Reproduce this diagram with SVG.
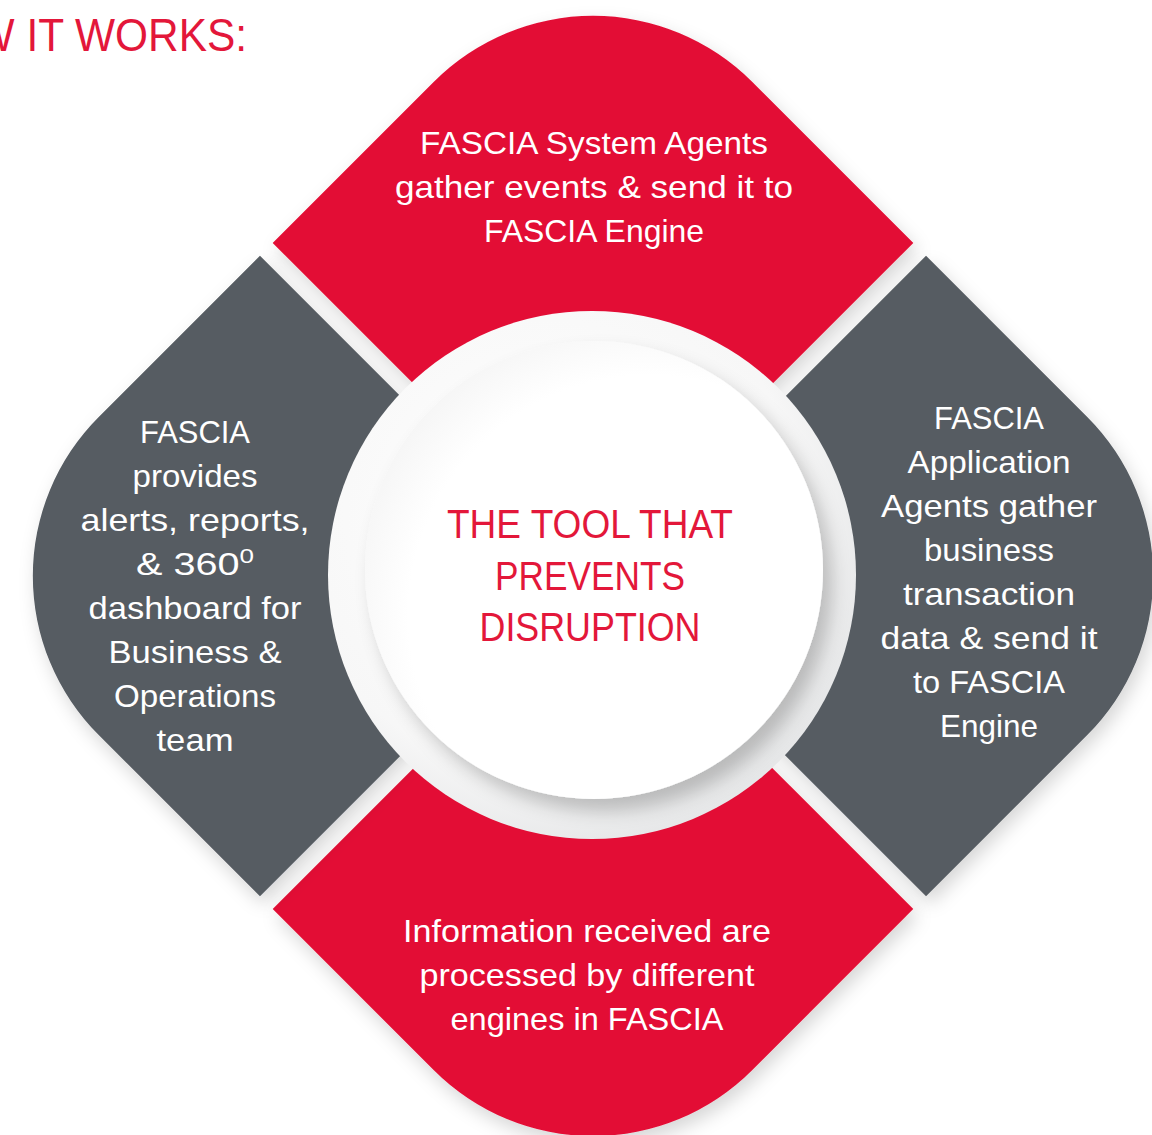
<svg xmlns="http://www.w3.org/2000/svg" width="1152" height="1135" viewBox="0 0 1152 1135">
  <style>
    .red { fill: #E30E36; }
    .gray { fill: #565C62; }
    .lbl { font-family: "Liberation Sans", Arial, sans-serif; font-size: 32px; fill: #FFFFFF; text-anchor: middle; }
    .ctr { font-family: "Liberation Sans", Arial, sans-serif; font-size: 40px; fill: #E3173A; text-anchor: middle; }
    .ttl { font-family: "Liberation Sans", Arial, sans-serif; font-size: 46px; fill: #E3173A; }
  </style>
  <defs>
    <rect id="shape" x="-462" y="-462" width="924" height="924" rx="225" ry="225"/>
    <clipPath id="qTop" clipPathUnits="userSpaceOnUse"><rect x="-520" y="-520" width="511" height="511"/></clipPath>
    <clipPath id="qRight" clipPathUnits="userSpaceOnUse"><rect x="9" y="-520" width="511" height="511"/></clipPath>
    <clipPath id="qBottom" clipPathUnits="userSpaceOnUse"><rect x="9" y="9" width="511" height="511"/></clipPath>
    <clipPath id="qLeft" clipPathUnits="userSpaceOnUse"><rect x="-520" y="9" width="511" height="511"/></clipPath>
    <filter id="soft" x="-20%" y="-20%" width="140%" height="140%">
      <feDropShadow dx="4" dy="8" stdDeviation="9" flood-color="#000000" flood-opacity="0.16"/>
    </filter>
    <filter id="discShadow" x="-30%" y="-30%" width="160%" height="160%">
      <feDropShadow dx="9" dy="12" stdDeviation="9" flood-color="#000000" flood-opacity="0.22"/>
    </filter>
    <radialGradient id="ringGrad" cx="0.4" cy="0.38" r="0.65">
      <stop offset="0" stop-color="#FFFFFF"/>
      <stop offset="0.75" stop-color="#F7F7F7"/>
      <stop offset="1" stop-color="#E6E7E8"/>
    </radialGradient>
    <radialGradient id="discGrad" cx="0.62" cy="0.6" r="0.75">
      <stop offset="0" stop-color="#FFFFFF"/>
      <stop offset="0.7" stop-color="#FFFFFF"/>
      <stop offset="1" stop-color="#F0F0F0"/>
    </radialGradient>
  </defs>

  <rect x="0" y="0" width="1152" height="1135" fill="#FFFFFF"/>

  <g id="title">
    <text class="ttl" x="-89" y="51" textLength="336" lengthAdjust="spacingAndGlyphs">HOW IT WORKS:</text>
  </g>

  <g id="node-top">
    <g filter="url(#soft)"><use href="#shape" class="red" transform="translate(593,576) rotate(45)" clip-path="url(#qTop)"/></g>
    <text class="lbl" x="594" y="154" textLength="348" lengthAdjust="spacingAndGlyphs">FASCIA System Agents</text>
    <text class="lbl" x="594" y="198" textLength="398" lengthAdjust="spacingAndGlyphs">gather events &amp; send it to</text>
    <text class="lbl" x="594" y="242" textLength="220" lengthAdjust="spacingAndGlyphs">FASCIA Engine</text>
  </g>

  <g id="node-right">
    <g filter="url(#soft)"><use href="#shape" class="gray" transform="translate(593,576) rotate(45)" clip-path="url(#qRight)"/></g>
    <text class="lbl" x="989" y="429" textLength="110" lengthAdjust="spacingAndGlyphs">FASCIA</text>
    <text class="lbl" x="989" y="473" textLength="163" lengthAdjust="spacingAndGlyphs">Application</text>
    <text class="lbl" x="989" y="517" textLength="216" lengthAdjust="spacingAndGlyphs">Agents gather</text>
    <text class="lbl" x="989" y="561" textLength="130" lengthAdjust="spacingAndGlyphs">business</text>
    <text class="lbl" x="989" y="605" textLength="172" lengthAdjust="spacingAndGlyphs">transaction</text>
    <text class="lbl" x="989" y="649" textLength="217" lengthAdjust="spacingAndGlyphs">data &amp; send it</text>
    <text class="lbl" x="989" y="693" textLength="152" lengthAdjust="spacingAndGlyphs">to FASCIA</text>
    <text class="lbl" x="989" y="737" textLength="98" lengthAdjust="spacingAndGlyphs">Engine</text>
  </g>

  <g id="node-bottom">
    <g filter="url(#soft)"><use href="#shape" class="red" transform="translate(593,576) rotate(45)" clip-path="url(#qBottom)"/></g>
    <text class="lbl" x="587" y="942" textLength="368" lengthAdjust="spacingAndGlyphs">Information received are</text>
    <text class="lbl" x="587" y="986" textLength="335" lengthAdjust="spacingAndGlyphs">processed by different</text>
    <text class="lbl" x="587" y="1030" textLength="273" lengthAdjust="spacingAndGlyphs">engines in FASCIA</text>
  </g>

  <g id="node-left">
    <g filter="url(#soft)"><use href="#shape" class="gray" transform="translate(593,576) rotate(45)" clip-path="url(#qLeft)"/></g>
    <text class="lbl" x="195" y="443" textLength="110" lengthAdjust="spacingAndGlyphs">FASCIA</text>
    <text class="lbl" x="195" y="487" textLength="125" lengthAdjust="spacingAndGlyphs">provides</text>
    <text class="lbl" x="195" y="531" textLength="229" lengthAdjust="spacingAndGlyphs">alerts, reports,</text>
    <text class="lbl" x="195" y="575" textLength="118" lengthAdjust="spacingAndGlyphs">&amp; 360<tspan font-size="21" dy="-12">0</tspan></text>
    <text class="lbl" x="195" y="619" textLength="213" lengthAdjust="spacingAndGlyphs">dashboard for</text>
    <text class="lbl" x="195" y="663" textLength="173" lengthAdjust="spacingAndGlyphs">Business &amp;</text>
    <text class="lbl" x="195" y="707" textLength="162" lengthAdjust="spacingAndGlyphs">Operations</text>
    <text class="lbl" x="195" y="751" textLength="77" lengthAdjust="spacingAndGlyphs">team</text>
  </g>

  <g id="node-center">
    <circle cx="592" cy="575" r="264" fill="url(#ringGrad)"/>
    <circle cx="594" cy="570" r="229" fill="url(#discGrad)" filter="url(#discShadow)"/>
    <text class="ctr" x="590" y="538" textLength="286" lengthAdjust="spacingAndGlyphs">THE TOOL THAT</text>
    <text class="ctr" x="590" y="590" textLength="190" lengthAdjust="spacingAndGlyphs">PREVENTS</text>
    <text class="ctr" x="590" y="641" textLength="221" lengthAdjust="spacingAndGlyphs">DISRUPTION</text>
  </g>

  <g id="connectors"/>
</svg>
